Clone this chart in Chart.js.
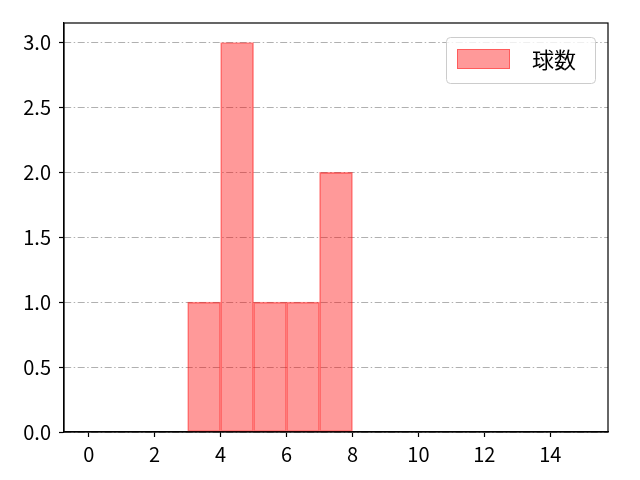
<!DOCTYPE html>
<html>
<head>
<meta charset="utf-8">
<script src="https://cdn.jsdelivr.net/npm/chart.js@4/dist/chart.umd.min.js"></script>
<style>
  html, body { margin: 0; padding: 0; background: #fff; }
  canvas { display: block; }
</style>
</head>
<body>
<canvas id="chart" width="640" height="480"></canvas>
<script>
// histogram data
const binEdges = [3, 4, 5, 6, 7, 8];
const counts = [1, 3, 1, 1, 2];
const seriesLabel = "球数";
const xTicks = [0, 2, 4, 6, 8, 10, 12, 14];
const yTicks = [0, 0.5, 1.0, 1.5, 2.0, 2.5, 3.0];

const FONT = "'Noto Sans CJK JP', 'DejaVu Sans', sans-serif";

const points = counts.map((c, i) => ({ x: (binEdges[i] + binEdges[i + 1]) / 2, y: c }));

// frame around plot area (matplotlib spines)
const frame = {
    id: "frame",
    afterDatasetsDraw(chart) {
        const a = chart.chartArea;
        const ctx = chart.ctx;
        ctx.save();
        ctx.strokeStyle = "#000";
        ctx.lineWidth = 1.2;
        ctx.strokeRect(a.left, a.top, a.right - a.left, a.bottom - a.top);
        ctx.restore();
    }
};

// legend box in the upper right corner
const boxLegend = {
    id: "boxLegend",
    afterDraw(chart) {
        const a = chart.chartArea;
        const ctx = chart.ctx;
        const w = 149, h = 46;
        const x = a.right - 13 - w, y = a.top + 14;
        ctx.save();
        ctx.fillStyle = "rgba(255,255,255,0.8)";
        ctx.strokeStyle = "#cccccc";
        ctx.lineWidth = 1;
        ctx.beginPath();
        ctx.roundRect(x + 0.5, y + 0.5, w, h, 4);
        ctx.fill();
        ctx.stroke();
        ctx.fillStyle = "rgba(255,0,0,0.4)";
        ctx.fillRect(x + 11, y + 12, 53, 20);
        ctx.strokeStyle = "rgba(255,0,0,0.4)";
        ctx.strokeRect(x + 11.5, y + 12.5, 52, 19);
        ctx.fillStyle = "#000";
        ctx.font = "22px " + FONT;
        ctx.textBaseline = "middle";
        ctx.fillText(chart.data.datasets[0].label, x + 86, y + 23);
        ctx.restore();
    }
};

new Chart(document.getElementById("chart").getContext("2d"), {
    type: "bar",
    data: {
        datasets: [{
            label: seriesLabel,
            data: points,
            backgroundColor: "rgba(255,0,0,0.4)",
            borderColor: "rgba(255,0,0,0.45)",
            borderWidth: 1,
            borderSkipped: false,
            barPercentage: 1,
            categoryPercentage: 1
        }]
    },
    options: {
        responsive: false,
        devicePixelRatio: 1,
        animation: false,
        layout: { padding: { top: 23, right: 32, left: 0, bottom: 0 } },
        plugins: { legend: { display: false }, tooltip: { enabled: false } },
        scales: {
            x: {
                type: "linear",
                offset: false,
                min: -0.75,
                max: 15.75,
                afterBuildTicks: s => { s.ticks = xTicks.map(v => ({ value: v })); },
                afterFit: s => { s.height = 48; },
                grid: { offset: false, drawOnChartArea: false, tickLength: 5, tickColor: "#000", tickWidth: 1.2 },
                border: { color: "#000", width: 1.2 },
                ticks: { color: "#000", font: { family: FONT, size: 20 }, padding: 5, maxRotation: 0,
                    callback: v => String(v) }
            },
            y: {
                min: 0,
                max: 3.15,
                afterBuildTicks: s => { s.ticks = yTicks.map(v => ({ value: v })); },
                afterFit: s => { s.width = 64; },
                grid: { color: "#b0b0b0", lineWidth: 1,
                    tickLength: 5, tickColor: "#000", tickWidth: 1.2, tickBorderDash: [] },
                border: { color: "#000", width: 1.2, dash: [7, 2.5, 1.5, 2.5] },
                ticks: { color: "#000", font: { family: FONT, size: 20 }, padding: 8,
                    callback: v => Number(v).toFixed(1) }
            }
        }
    },
    plugins: [frame, boxLegend]
});
</script>
</body>
</html>
